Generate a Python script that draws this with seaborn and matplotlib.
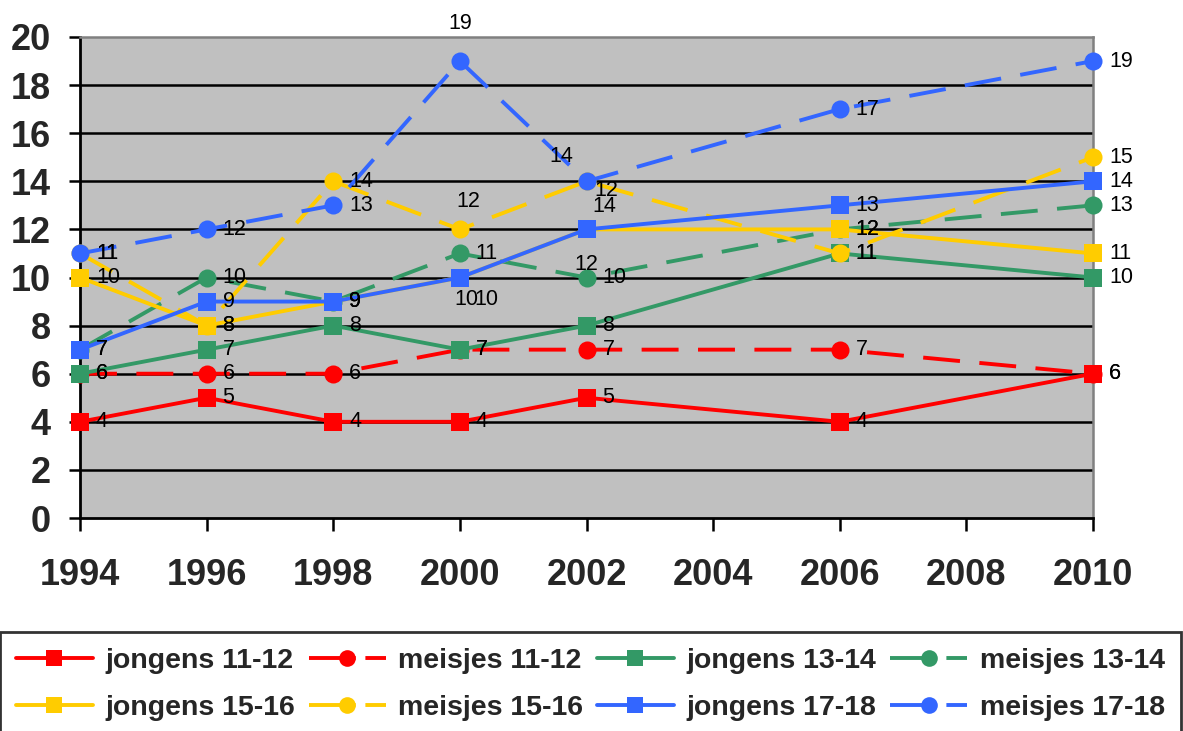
import matplotlib
matplotlib.use("Agg")
import matplotlib.pyplot as plt
import seaborn as sns
import pandas as pd
from matplotlib.lines import Line2D

# ---- data ----
years = [1994, 1996, 1998, 2000, 2002, 2006, 2010]
jongens_11_12 = [4, 5, 4, 4, 5, 4, 6]
meisjes_11_12 = [6, 6, 6, 7, 7, 7, 6]
jongens_13_14 = [6, 7, 8, 7, 8, 11, 10]
meisjes_13_14 = [7, 10, 9, 11, 10, 12, 13]
jongens_15_16 = [10, 8, 9, 10, 12, 12, 11]
meisjes_15_16 = [11, 8, 14, 12, 14, 11, 15]
jongens_17_18 = [7, 9, 9, 10, 12, 13, 14]
meisjes_17_18 = [11, 12, 13, 19, 14, 17, 19]

series_names = ["jongens 11-12", "meisjes 11-12", "jongens 13-14", "meisjes 13-14",
                "jongens 15-16", "meisjes 15-16", "jongens 17-18", "meisjes 17-18"]
series_values = [jongens_11_12, meisjes_11_12, jongens_13_14, meisjes_13_14,
                 jongens_15_16, meisjes_15_16, jongens_17_18, meisjes_17_18]

y_ticks = list(range(0, 21, 2))
x_ticks = list(range(1994, 2011, 2))

# ---- styles ----
colors = {"11-12": "#FF0000", "13-14": "#339966", "15-16": "#FFCC00", "17-18": "#3366FF"}
palette = {n: colors[n.split()[1]] for n in series_names}
markers = {n: ("s" if n.startswith("jongens") else "o") for n in series_names}
dashes = {n: ("" if n.startswith("jongens") else (9.5, 5)) for n in series_names}

# label offsets (points) for specific data labels; default is to the right
label_offsets = {
    ("meisjes 17-18", 2000): (0, 27, "center"),
    ("meisjes 15-16", 2000): (6, 20, "center"),
    ("jongens 15-16", 2000): (5, -16, "center"),
    ("jongens 17-18", 2000): (19, -16, "center"),
    ("meisjes 17-18", 2002): (-18, 18, "center"),
    ("jongens 15-16", 2002): (14, 28, "center"),
    ("meisjes 15-16", 2002): (13, -18, "center"),
    ("jongens 17-18", 2002): (0, -25, "center"),
}

rows = []
for name, vals in zip(series_names, series_values):
    for yr, v in zip(years, vals):
        rows.append({"year": yr, "value": v, "series": name})
df = pd.DataFrame(rows)

sns.set_theme(style="white")
plt.rcParams["font.family"] = ["Liberation Sans", "DejaVu Sans"]

fig = plt.figure(figsize=(11.83, 7.31), dpi=100)
ax = fig.add_axes([80 / 1183, 1 - 518 / 731, (1093 - 80) / 1183, (518 - 37) / 731])
ax.set_facecolor("#C0C0C0")

sns.lineplot(data=df, x="year", y="value", hue="series", style="series",
             hue_order=series_names, style_order=series_names,
             palette=palette, markers=markers, dashes=dashes,
             linewidth=2.8, markersize=13, markeredgewidth=0,
             ax=ax, legend=False, clip_on=False, zorder=3)

# data labels
for name, vals in zip(series_names, series_values):
    for yr, v in zip(years, vals):
        dx, dy, ha = label_offsets.get((name, yr), (11.5, 0, "left"))
        ax.annotate(str(v), (yr, v), xytext=(dx, dy), textcoords="offset points",
                    ha=ha, va="center", fontsize=15.5, color="black", zorder=5,
                    annotation_clip=False)

ax.set_xlim(1994, 2010)
ax.set_ylim(0, 20)
ax.set_xticks(x_ticks)
ax.set_yticks(y_ticks)
ax.set_xticklabels([str(t) for t in x_ticks], fontsize=26, fontweight="bold")
ax.set_yticklabels([str(t) for t in y_ticks], fontsize=26, fontweight="bold")
ax.set_xlabel("")
ax.set_ylabel("")
ax.grid(False)
for yv in y_ticks[1:-1]:
    ax.axhline(yv, color="black", linewidth=1.8, zorder=1)

ax.tick_params(axis="x", direction="out", length=9, width=1.8, color="black", pad=20)
ax.tick_params(axis="y", direction="out", length=8, width=1.8, color="black", pad=13)
ax.tick_params(left=True, bottom=True)
for side in ["left", "bottom"]:
    ax.spines[side].set_color("black")
    ax.spines[side].set_linewidth(2.0)
for side in ["top", "right"]:
    ax.spines[side].set_visible(True)
    ax.spines[side].set_color("#808080")
    ax.spines[side].set_linewidth(1.8)

# legend (row-wise ordering for 4 columns)
leg_handles = []
for name in series_names:
    leg_handles.append(Line2D([], [], color=palette[name], marker=markers[name],
                              linestyle="-" if name.startswith("jongens") else (0, (12, 2.5, 6, 100)),
                              linewidth=2.8, markersize=12, markeredgewidth=0))
order = [0, 4, 1, 5, 2, 6, 3, 7]
leg = fig.legend([leg_handles[i] for i in order], [series_names[i] for i in order],
                 loc="upper left", bbox_to_anchor=(0.0, -0.05, 0.998, 1 - 632 / 731 + 0.05),
                 mode="expand", ncol=4, frameon=True, fancybox=False,
                 prop={"weight": "bold", "size": 20.5}, handlelength=2.7,
                 handletextpad=0.45, columnspacing=0.5, labelspacing=0.75,
                 borderaxespad=0, borderpad=0.55)
leg.get_frame().set_edgecolor("black")
leg.get_frame().set_linewidth(2.0)

fig.savefig("out.png", dpi=100)
